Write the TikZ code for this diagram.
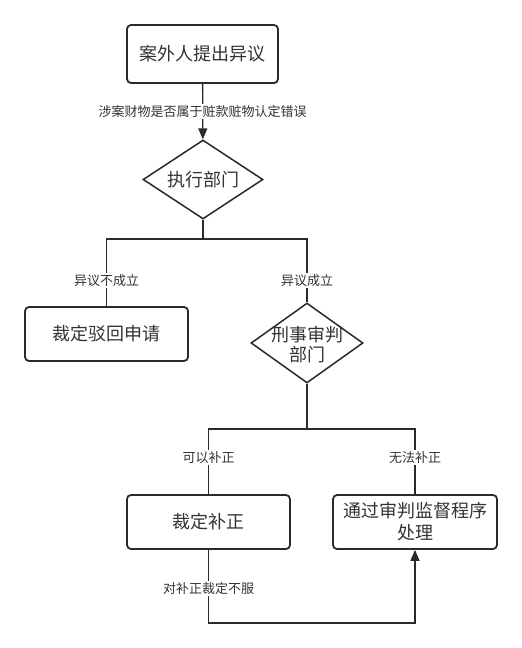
\documentclass[tikz,border=0pt]{standalone}
\usepackage{fontspec}
\setmainfont{Noto Sans CJK SC}
\usetikzlibrary{shapes.geometric,arrows.meta}
\definecolor{ink}{HTML}{333333}
\definecolor{edge}{HTML}{2A2A2A}
\tikzset{
  procbox/.style={draw=edge, line width=1.8pt, rounded corners=4pt, fill=white, text=ink,
    inner sep=0pt, align=center, font=\fontsize{18}{22}\selectfont},
  decide/.style={draw=edge, line width=1.5pt, diamond, inner sep=0pt, fill=white},
  decidetext/.style={text=ink, align=center, font=\fontsize{18}{20}\selectfont, inner sep=0pt},
  conn/.style={draw=edge, line width=1.3pt},
  arrowconn/.style={conn, -{Triangle[width=9pt,length=11pt]}},
  lbl/.style={fill=white, text=ink, font=\fontsize{13}{15}\selectfont, inner sep=1.5pt}
}
\begin{document}
\begin{tikzpicture}[x=1pt,y=-1pt]
\useasboundingbox (0,0) rectangle (522,648);
\node[procbox, minimum width=151pt, minimum height=58pt] (b1) at (202.5,54) {案外人提出异议};
\node[decide, minimum width=120pt, minimum height=79pt] (d1) at (203,179.5) {};
\node[decidetext] (t1) at (d1) {执行部门};
\node[procbox, minimum width=163pt, minimum height=54pt] (b2) at (106.5,334) {裁定驳回申请};
\node[decide, minimum width=112pt, minimum height=80pt] (d2) at (307,343) {};
\node[decidetext] (t2) at (307,345) {刑事审判\\部门};
\node[procbox, minimum width=163pt, minimum height=54pt] (b3) at (208.5,522) {裁定补正};
\node[procbox, minimum width=164pt, minimum height=54pt] (b4) at (415,522) {通过审判监督程序\\处理};
\coordinate (j1) at (203,239);
\coordinate (j2) at (307,429);
\coordinate (c1) at (208.5,623);
\coordinate (c2) at (415,623);
\draw[arrowconn] (b1) -- node[lbl, midway] (l1) {涉案财物是否属于赃款赃物认定错误} (d1);
\draw[conn] (d1.south) -- (j1);
\draw[conn] (j1) -| node[lbl, pos=0.81] (l2) {异议不成立} (b2.north);
\draw[conn] (j1) -| node[lbl, pos=0.83] (l3) {异议成立} (d2.north);
\draw[conn] (d2.south) -- (j2);
\draw[conn] (j2) -| node[lbl, pos=0.72] (l4) {可以补正} (b3.north);
\draw[conn] (j2) -| node[lbl, pos=0.72] (l5) {无法补正} (b4.north);
\draw[arrowconn] (b3.south) -- node[lbl, pos=0.53] (l6) {对补正裁定不服} (c1) -- (c2) -- (b4.south);
\end{tikzpicture}
\end{document}
